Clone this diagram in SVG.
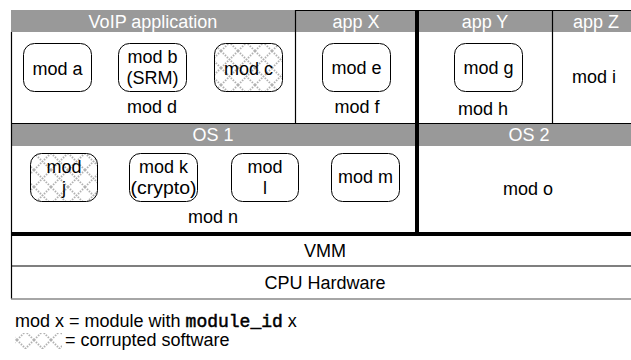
<svg xmlns="http://www.w3.org/2000/svg" width="631" height="360" viewBox="0 0 631 360">
  <style>
    .hdr { fill: #999999; }
    .hdrtxt { font-family: "Liberation Sans", Arial, sans-serif; font-size: 18px; fill: #ffffff; text-anchor: middle; }
    .txt { font-family: "Liberation Sans", Arial, sans-serif; font-size: 18px; fill: #000000; text-anchor: middle; }
    .leg { font-family: "Liberation Sans", Arial, sans-serif; font-size: 18px; fill: #000000; }
    .mono { font-family: "Liberation Mono", "Courier New", monospace; stroke: #000000; stroke-width: 0.5; }
    .mod { fill: #ffffff; stroke: #000000; stroke-width: 1; }
    .bad { fill: url(#corrupt); stroke: #000000; stroke-width: 1; }
    .thin { stroke: #000000; stroke-width: 1.2; fill: none; }
    .thick { stroke: #000000; stroke-width: 4; fill: none; }
  </style>
  <defs>
    <!-- cross-hatched texture marking corrupted software -->
    <pattern id="corrupt" patternUnits="userSpaceOnUse" width="17" height="17">
      <rect width="17" height="17" fill="#ffffff"/>
      <path d="M0,0 L17,17 M17,0 L0,17" stroke="#b0b0b0" stroke-width="2" stroke-dasharray="1.4 1.4" fill="none"/>
    </pattern>
  </defs>

  <rect width="631" height="360" fill="#ffffff"/>

  <!-- header bars -->
  <g id="headers">
    <rect class="hdr" x="11" y="10" width="284" height="22"/>
    <rect class="hdr" x="296" y="10" width="119" height="22"/>
    <rect class="hdr" x="419" y="10" width="133" height="22"/>
    <rect class="hdr" x="553" y="10" width="87" height="22"/>
    <rect class="hdr" x="11" y="123" width="404" height="23"/>
    <rect class="hdr" x="419" y="123" width="221" height="23"/>
    <text class="hdrtxt" x="153" y="28">VoIP application</text>
    <text class="hdrtxt" x="356" y="28">app X</text>
    <text class="hdrtxt" x="485" y="28">app Y</text>
    <text class="hdrtxt" x="596" y="28">app Z</text>
    <text class="hdrtxt" x="213" y="141">OS 1</text>
    <text class="hdrtxt" x="529" y="141">OS 2</text>
  </g>

  <!-- partition lines -->
  <g id="frame">
    <line class="thin" x1="295" y1="10.5" x2="640" y2="10.5"/>
    <line class="thin" x1="11.5" y1="32" x2="11.5" y2="299"/>
    <line class="thin" x1="295.5" y1="10" x2="295.5" y2="123"/>
    <line class="thin" x1="552.5" y1="10" x2="552.5" y2="123"/>
    <line class="thin" x1="11" y1="123.5" x2="640" y2="123.5"/>
    <line class="thick" x1="417" y1="10" x2="417" y2="234"/>
    <line class="thick" x1="11" y1="234" x2="640" y2="234"/>
    <line class="thin" x1="11" y1="266" x2="640" y2="266" stroke-width="1.5"/>
    <line x1="11" y1="299" x2="640" y2="299" stroke="#888888" stroke-width="1.5"/>
  </g>

  <!-- modules -->
  <g id="mod-a"><rect class="mod" x="23.5" y="43.5" width="68" height="48" rx="11"/><text class="txt" x="57.5" y="75">mod a</text></g>
  <g id="mod-b"><rect class="mod" x="118.5" y="43.5" width="68" height="48" rx="11"/><text class="txt" x="152.5" y="63">mod b</text><text class="txt" x="152.5" y="84">(SRM)</text></g>
  <g id="mod-c"><rect class="bad" x="214.5" y="43.5" width="68" height="48" rx="11"/><text class="txt" x="248.5" y="75">mod c</text></g>
  <g id="mod-d"><text class="txt" x="152" y="113">mod d</text></g>
  <g id="mod-e"><rect class="mod" x="322.5" y="43.5" width="68" height="48" rx="11"/><text class="txt" x="356.5" y="74">mod e</text></g>
  <g id="mod-f"><text class="txt" x="357" y="113">mod f</text></g>
  <g id="mod-g"><rect class="mod" x="454.5" y="43.5" width="68" height="48" rx="11"/><text class="txt" x="488.5" y="74">mod g</text></g>
  <g id="mod-h"><text class="txt" x="483" y="115">mod h</text></g>
  <g id="mod-i"><text class="txt" x="594" y="83">mod i</text></g>

  <g id="mod-j"><rect class="bad" x="30.5" y="153.5" width="67" height="48" rx="11"/><text class="txt" x="64" y="173">mod</text><text class="txt" x="64" y="194">j</text></g>
  <g id="mod-k"><rect class="mod" x="129.5" y="153.5" width="68" height="48" rx="11"/><text class="txt" x="163.5" y="173">mod k</text><text class="txt" x="163.5" y="194" textLength="66" lengthAdjust="spacingAndGlyphs">(crypto)</text></g>
  <g id="mod-l"><rect class="mod" x="231.5" y="153.5" width="67" height="48" rx="11"/><text class="txt" x="265" y="173">mod</text><text class="txt" x="265" y="194">l</text></g>
  <g id="mod-m"><rect class="mod" x="331.5" y="153.5" width="68" height="48" rx="11"/><text class="txt" x="365.5" y="183">mod m</text></g>
  <g id="mod-n"><text class="txt" x="213" y="223">mod n</text></g>
  <g id="mod-o"><text class="txt" x="528" y="195">mod o</text></g>

  <!-- lower layers -->
  <g id="vmm"><text class="txt" x="325" y="257">VMM</text></g>
  <g id="cpu"><text class="txt" x="325" y="289">CPU Hardware</text></g>

  <!-- legend -->
  <g id="legend">
    <text class="leg" x="15" y="327">mod x = module with <tspan class="mono">module_id</tspan> x</text>
    <rect x="15" y="333" width="47" height="16" fill="url(#corrupt)"/>
    <text class="leg" x="65" y="346">= corrupted software</text>
  </g>
</svg>
